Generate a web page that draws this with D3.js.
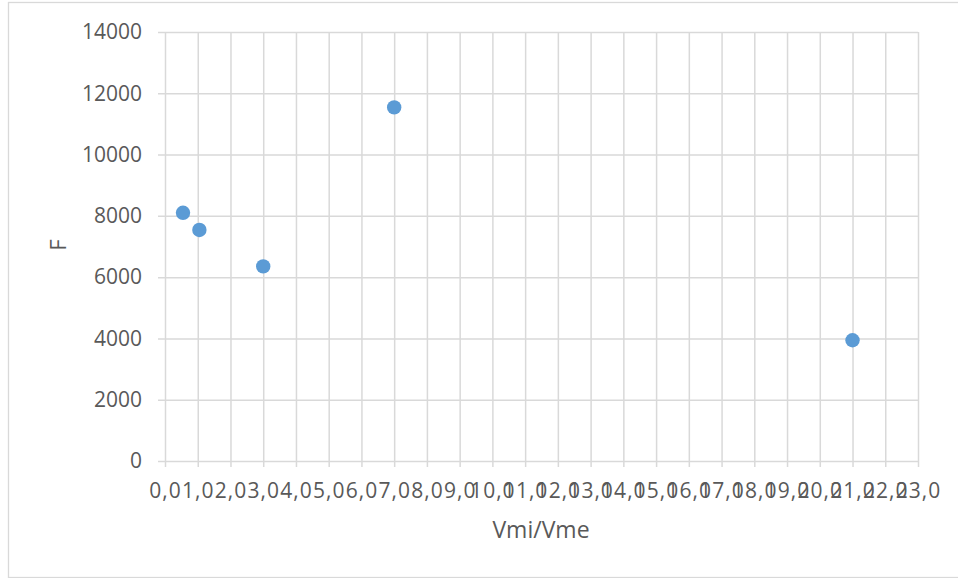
<!DOCTYPE html>
<html>
<head>
<meta charset="utf-8">
<script src="https://cdn.jsdelivr.net/npm/d3@7"></script>
<style>
  html, body { margin: 0; padding: 0; background: #fff; }
  svg { display: block; }
  text { font-family: "Open Sans", "Liberation Sans", sans-serif; fill: #595959; }
</style>
</head>
<body>
<script>
// Scatter of F against the Vmi/Vme ratio
const ratioValues = [0.55, 1.05, 3.0, 7.0, 21.0];
const fValues = [8100, 7540, 6350, 11540, 3940];
const xTickValues = d3.range(0, 24, 1);
const yTickValues = [0, 2000, 4000, 6000, 8000, 10000, 12000, 14000];
const xTitle = "Vmi/Vme";
const yTitle = "F";

const width = 958, height = 578;
const margin = { left: 165, right: 40, top: 32, bottom: 117 };

const svg = d3.select("body").append("svg")
  .attr("width", width).attr("height", height);

// chart frame
svg.append("rect")
  .attr("x", 8.5).attr("y", 2.5)
  .attr("width", 960).attr("height", 575)
  .attr("fill", "#fff").attr("stroke", "#d9d9d9").attr("stroke-width", 1.3);

const x = d3.scaleLinear().domain([0, 23]).range([margin.left, width - margin.right]);
const y = d3.scaleLinear().domain([0, 14000]).range([height - margin.bottom, margin.top]);

const grid = "#d9d9d9";

// vertical grid lines + ticks
const xAxis = d3.axisBottom(x)
  .tickValues(xTickValues)
  .tickSizeOuter(0)
  .tickFormat(d => d3.format(".1f")(d).replace(".", ","));

const gx = svg.append("g")
  .attr("transform", `translate(0,${y(0)})`)
  .call(xAxis);
gx.select(".domain").remove();
gx.selectAll(".tick line").attr("stroke", grid).attr("stroke-width", 1.5)
  .attr("y2", -(y(0) - y(14000))).attr("y1", 6);
gx.selectAll(".tick text")
  .attr("y", 22).attr("dy", "0.71em")
  .style("font-size", "21px").style("letter-spacing", "1px")
  .attr("fill", "#595959");

// horizontal grid lines + ticks
const yAxis = d3.axisLeft(y)
  .tickValues(yTickValues)
  .tickSizeOuter(0)
  .tickFormat(d3.format("d"));

const gy = svg.append("g")
  .attr("transform", `translate(${x(0)},0)`)
  .call(yAxis);
gy.select(".domain").remove();
gy.selectAll(".tick line").attr("stroke", grid).attr("stroke-width", 1.5)
  .attr("x1", -7).attr("x2", x(23) - x(0));
gy.selectAll(".tick text")
  .attr("x", -23)
  .style("font-size", "21px").attr("fill", "#595959");

// points
svg.append("g").selectAll("circle")
  .data(ratioValues.map((v, i) => ({ x: v, y: fValues[i] })))
  .join("circle")
  .attr("cx", d => x(d.x))
  .attr("cy", d => y(d.y))
  .attr("r", 7.2)
  .attr("fill", "#5b9bd5");

// axis titles
svg.append("text")
  .attr("x", 541).attr("y", 538)
  .attr("text-anchor", "middle")
  .style("font-size", "23px")
  .text(xTitle);

svg.append("text")
  .attr("transform", "translate(66,245) rotate(-90)")
  .attr("text-anchor", "middle")
  .style("font-size", "22px")
  .text(yTitle);
</script>
</body>
</html>
